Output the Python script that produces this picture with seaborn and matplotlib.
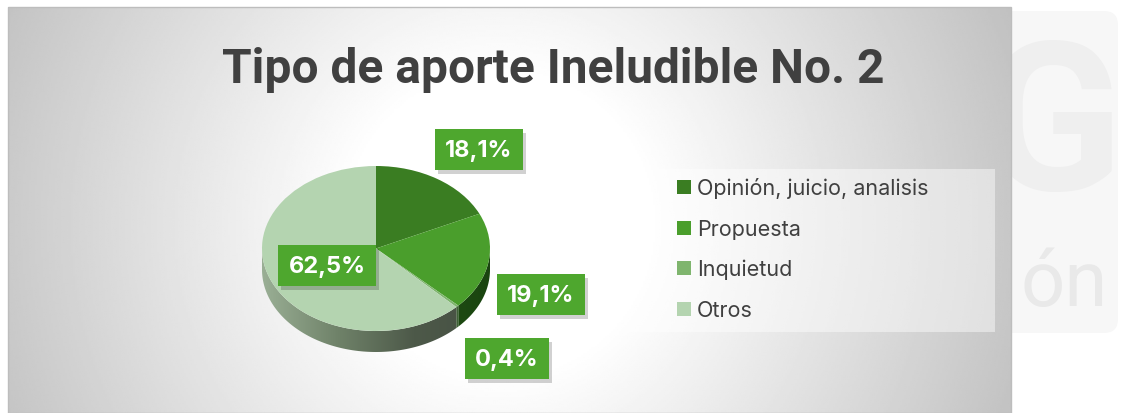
import numpy as np
import matplotlib
matplotlib.use("Agg")
import matplotlib.pyplot as plt
from matplotlib.patches import Polygon, Rectangle, FancyBboxPatch
from matplotlib.colors import LinearSegmentedColormap
import seaborn as sns

# --- data -------------------------------------------------------------
categories = ["Opinión, juicio, analisis", "Propuesta", "Inquietud", "Otros"]
shares = [18.1, 19.1, 0.4, 62.5]
chart_title = "Tipo de aporte Ineludible No. 2"

# --- style ------------------------------------------------------------
sns.set_theme(style="white")
plt.rcParams["font.family"] = ["Inter", "DejaVu Sans"]

slice_colors = sns.color_palette(["#3a7d22", "#4a9e2c", "#7fb56e", "#b4d4b0"])
side_stops = [
    ["#2c5e1a", "#1f4a12"],
    ["#2d6a1c", "#1a4410"],
    ["#4f7a44", "#3c5e34"],
    ["#9aaf95", "#6f8269", "#4d5949", "#465043"],
]
text_dark = "#404040"
label_green = "#4ea72e"

W, H = 1125, 414
fig = plt.figure(figsize=(W / 100, H / 100), dpi=100)

# --- background layer (pixel coordinates) ------------------------------
bg = fig.add_axes([0, 0, 1, 1])
bg.set_xlim(0, W)
bg.set_ylim(H, 0)
bg.axis("off")

# faint logo sitting behind the chart panel
bg.add_patch(FancyBboxPatch((1000, 12), 118, 322, boxstyle="round,pad=0,rounding_size=14",
                            fc="#f7f7f7", ec="none", zorder=0))
bg.text(1122, 190, "G", ha="right", va="baseline", fontsize=150, fontweight="bold",
        family="Roboto", color="#efefef", zorder=1)
bg.text(1108, 306, "ón", ha="right", va="baseline", fontsize=56, family="Roboto",
        color="#e9e9e9", zorder=1)

# chart panel with radial gradient
x0, x1, y0, y1 = 8, 1011, 8, 414
gx, gy = np.meshgrid(np.linspace(x0, x1, 500), np.linspace(y0, y1, 220))
dist = np.hypot(gx - 500, gy - 225)
shade = np.clip(1 - (dist - 150) / 390 * 0.235, 0.75, 1.0)
bg.imshow(shade, cmap="gray", vmin=0, vmax=1, extent=(x0, x1, y1, y0),
          aspect="auto", interpolation="bilinear", zorder=2)
bg.add_patch(Rectangle((x0, y0), x1 - x0, y1 - y0, fc="none", ec="#bdbdbd", lw=1.0, zorder=3))
bg.set_xlim(0, W)
bg.set_ylim(H, 0)

# --- 3D pie -----------------------------------------------------------
px0, px1, ptop = 262, 490, 167
ry, depth_px = 82.5, 21
depth = depth_px / ry
pie_ax = fig.add_axes([px0 / W, 1 - (ptop + 2 * ry + depth_px) / H,
                       (px1 - px0) / W, (2 * ry + depth_px) / H])
pie_ax.set_facecolor("none")

wedges, _ = pie_ax.pie(shares, colors=slice_colors, startangle=90, counterclock=False,
                       radius=1, wedgeprops=dict(linewidth=0))
for w in wedges:
    w.set_zorder(5)

# side walls for the front half of the pie
cum = np.concatenate([[0], np.cumsum(shares)]) / np.sum(shares) * 360
grad = np.linspace(0, 1, 256)[None, :]
for i in range(len(shares)):
    t_start, t_end = 90 - cum[i], 90 - cum[i + 1]
    cmap = LinearSegmentedColormap.from_list(f"side{i}", side_stops[i])
    for k in (-360, 0, 360):
        lo, hi = max(t_end + k, -180), min(t_start + k, 0)
        if lo >= hi:
            continue
        t = np.radians(np.linspace(lo, hi, 120))
        rim = np.column_stack([np.cos(t), np.sin(t)])
        base = np.column_stack([np.cos(t), np.sin(t) - depth])[::-1]
        poly = Polygon(np.vstack([rim, base]), closed=True, fc="none", ec="none")
        pie_ax.add_patch(poly)
        im = pie_ax.imshow(grad, cmap=cmap, extent=(-1, 1, -1 - depth, 1),
                           aspect="auto", zorder=2)
        im.set_clip_path(poly)

pie_ax.set_aspect("auto")
pie_ax.set_xlim(-1, 1)
pie_ax.set_ylim(-1 - depth, 1)
pie_ax.axis("off")

# --- overlay: title, data labels, legend --------------------------------
top = fig.add_axes([0, 0, 1, 1])
top.set_facecolor("none")
top.set_xlim(0, W)
top.set_ylim(H, 0)
top.axis("off")

top.text(553, 70, chart_title, ha="center", va="center", fontsize=34.5,
         fontweight="bold", family="Roboto", color=text_dark)

# data labels: green boxes sized around the rendered text
label_xy = [(479, 150), (541, 295), (507, 359), (327, 266)]
label_texts = []
for v, (lx, ly) in zip(shares, label_xy):
    t = top.text(lx, ly + 1, f"{v:.1f}".replace(".", ",") + "%", ha="center", va="center",
                 fontsize=17, fontweight="bold", color="white", zorder=6)
    label_texts.append(t)

fig.canvas.draw()
renderer = fig.canvas.get_renderer()
for t, (lx, ly) in zip(label_texts, label_xy):
    ext = t.get_window_extent(renderer)
    bw = ext.width + 21
    bh = 41
    top.add_patch(Rectangle((lx - bw / 2 + 3, ly - bh / 2 + 4), bw, bh, fc="#000000",
                            alpha=0.18, ec="none", zorder=4))
    top.add_patch(Rectangle((lx - bw / 2, ly - bh / 2), bw, bh, fc=label_green,
                            ec="none", zorder=5))

top.add_patch(Rectangle((619, 170), 376, 163, fc="white", ec="none", alpha=0.45))
row_y = [188, 229, 269, 310]
for name, col, yy in zip(categories, slice_colors, row_y):
    top.add_patch(Rectangle((677, yy - 7), 14, 14, fc=col, ec="none"))
    top.text(697, yy + 1, name, ha="left", va="center", fontsize=15.5, color=text_dark)

fig.savefig("out.png", dpi=100)
